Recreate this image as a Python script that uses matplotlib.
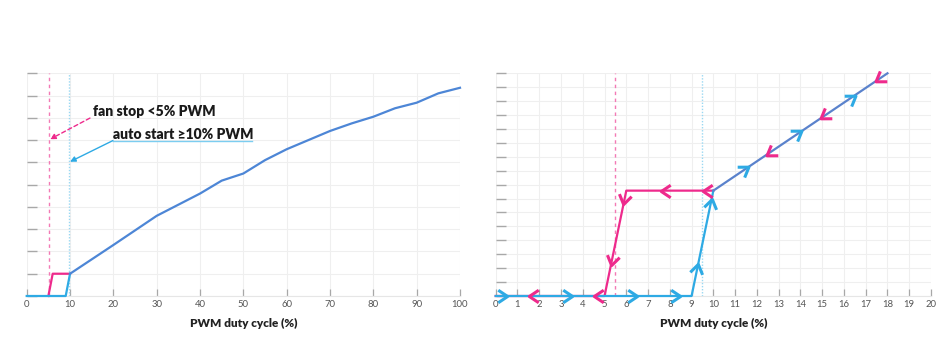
import numpy as np
import matplotlib
matplotlib.use("Agg")
import matplotlib.pyplot as plt
from matplotlib.path import Path
from matplotlib.markers import MarkerStyle
from matplotlib.transforms import Affine2D

plt.rcParams['font.family'] = ['Lato', 'DejaVu Sans']

# ---------------- data ----------------
# Left panel: full range fan curve (arbitrary speed units 0..10)
left_x_ticks = [0, 10, 20, 30, 40, 50, 60, 70, 80, 90, 100]
left_start_x = [0, 9, 10]
left_start_y = [0, 0, 1.0]
left_stop_x = [5, 6, 10]
left_stop_y = [0, 1.0, 1.0]
left_curve_x = [10, 20, 30, 40, 45, 50, 55, 60, 65, 70, 75, 80, 85, 90, 95, 100]
left_curve_y = [1.0, 2.29, 3.6, 4.6, 5.18, 5.5, 6.1, 6.59, 7.0, 7.41, 7.75, 8.05, 8.43, 8.68, 9.1, 9.35]
left_stop_threshold = 5.2
left_start_threshold = 9.8

# Right panel: hysteresis zoom (0..20 % PWM)
right_x_ticks = list(range(0, 21))
right_start_x = [0, 9, 10]
right_start_y = [0, 0, 7.57]
right_stop_x = [10, 6, 5, 0]
right_stop_y = [7.57, 7.57, 0, 0]
right_curve_x = [10, 18]
right_curve_y = [7.57, 16]
right_stop_threshold = 5.5
right_start_threshold = 9.5

# direction markers along paths
base_up_x = [0.35, 3.3, 6.3, 8.3]      # light blue, rightwards on y=0
base_down_x = [1.7, 4.7]               # pink, leftwards on y=0
rise_up_y = [2.0, 6.7]                 # light blue, up the 9->10 segment
fall_down_y = [6.9, 2.5]               # pink, down the 6->5 segment
flat_down_x = [7.8, 9.7]               # pink, leftwards on plateau
diag_up_x = [11.45, 13.9, 16.35]       # light blue, up the diagonal
diag_down_x = [12.6, 15.1, 17.6]       # pink, down the diagonal

annot_stop = "fan stop <5% PWM"
annot_start = "auto start \u226510% PWM"
xlabel = "PWM duty cycle (%)"

# ---------------- style ----------------
PINK = "#ee2a8c"
PINK_L = "#f37ab5"
LBLUE = "#2eaae4"
LBLUE_L = "#9ad8f2"
MBLUE = "#4d86d6"
DBLUE = "#5a82cc"
GRID = "#efefef"
TICK = "#a8a8a8"
TXT = "#555555"

fig = plt.figure(figsize=(9.5, 3.55), dpi=100)
axL = fig.add_axes([26.7 / 950, 59 / 355, 433.3 / 950, 222.7 / 355])
axR = fig.add_axes([495.7 / 950, 59 / 355, 435.3 / 950, 222.7 / 355])


def style(ax, xlim, ylim, xticks, yticks):
    ax.set_xlim(*xlim)
    ax.set_ylim(*ylim)
    ax.set_xticks(xticks)
    ax.set_yticks(yticks)
    ax.set_yticklabels([])
    for s in ['top', 'right', 'left']:
        ax.spines[s].set_visible(False)
    ax.spines['bottom'].set_color("#e6e6e6")
    ax.spines['bottom'].set_linewidth(0.8)
    ax.grid(True, color=GRID, lw=0.8)
    ax.set_axisbelow(True)
    ax.tick_params(axis='x', direction='in', length=5, width=0.9, color=TICK,
                   labelsize=6.8, labelcolor=TXT, pad=3)
    ax.tick_params(axis='y', direction='in', length=7, width=1.0, color=TICK)
    ax.set_xlabel(xlabel, fontsize=8.5, fontweight='heavy', color="#222222", labelpad=6)
    ax.patch.set_alpha(0)


style(axL, (0, 100), (0, 10), left_x_ticks, np.arange(0, 11, 1))
style(axR, (0, 20), (0, 16), right_x_ticks, np.arange(0, 17, 1))

# ---------------- left panel ----------------
axL.axvline(left_stop_threshold, color=PINK_L, lw=1.0, ls=(0, (2.5, 2.5)), zorder=2)
axL.axvline(left_start_threshold, color=LBLUE_L, lw=1.0, ls=(0, (1, 1.2)), zorder=2)
axL.plot(left_stop_x, left_stop_y, color=PINK, lw=1.6, zorder=3, clip_on=False)
axL.plot(left_start_x, left_start_y, color=LBLUE, lw=1.6, zorder=4, clip_on=False)
axL.plot(left_curve_x, left_curve_y, color=MBLUE, lw=1.6, zorder=4, clip_on=False)

axL.text(15.2, 8.28, annot_stop, fontsize=10, fontweight='heavy', color="#1a1a1a",
         va='center', ha='left', zorder=6)
axL.annotate("", xy=(5.4, 7.04), xytext=(14.6, 7.99),
             arrowprops=dict(arrowstyle="-|>", color=PINK, lw=1.0, ls=(0, (3, 2)),
                             mutation_scale=8, shrinkA=0, shrinkB=0), zorder=6)
axL.text(19.9, 7.25, annot_start, fontsize=10, fontweight='heavy', color="#1a1a1a",
         va='center', ha='left', zorder=6)
axL.plot([19.9, 52.1], [6.98, 6.98], color="#7ccdf0", lw=1.0, zorder=5)
axL.annotate("", xy=(10.0, 6.03), xytext=(19.9, 6.98),
             arrowprops=dict(arrowstyle="-|>", color=LBLUE, lw=1.0,
                             mutation_scale=8, shrinkA=0, shrinkB=0), zorder=6)

# ---------------- right panel ----------------
axR.axvline(right_stop_threshold, color=PINK_L, lw=1.0, ls=(0, (2.5, 2.5)), zorder=2)
axR.axvline(right_start_threshold, color=LBLUE_L, lw=1.0, ls=(0, (1, 1.2)), zorder=2)
axR.plot(right_stop_x, right_stop_y, color=PINK, lw=1.6, zorder=3, clip_on=False)
axR.plot(right_start_x, right_start_y, color=LBLUE, lw=1.6, zorder=4, clip_on=False)
axR.plot(right_curve_x, right_curve_y, color=DBLUE, lw=1.6, zorder=4, clip_on=False)

CHEV = Path([(-0.5, 0.6), (0.4, 0.0), (-0.5, -0.6)],
            [Path.MOVETO, Path.LINETO, Path.LINETO])


def chevrons(ax, xs, ys, p0, p1, color):
    """Draw chevrons at (xs, ys) pointing from p0 to p1 (data coords)."""
    d0 = ax.transData.transform(p0)
    d1 = ax.transData.transform(p1)
    ang = np.degrees(np.arctan2(d1[1] - d0[1], d1[0] - d0[0]))
    m = MarkerStyle(CHEV, fillstyle='none', transform=Affine2D().rotate_deg(ang))
    ax.plot(xs, ys, ls='none', marker=m, markersize=9, markeredgewidth=2.2,
            markeredgecolor=color, markerfacecolor='none', zorder=7, clip_on=False,
            solid_joinstyle='miter')


# baseline
chevrons(axR, base_up_x, [0] * len(base_up_x), (0, 0), (1, 0), LBLUE)
chevrons(axR, base_down_x, [0] * len(base_down_x), (1, 0), (0, 0), PINK)
# rising start segment
p0 = (right_start_x[1], right_start_y[1]); p1 = (right_start_x[2], right_start_y[2])
rx = np.interp(rise_up_y, [p0[1], p1[1]], [p0[0], p1[0]])
chevrons(axR, rx, rise_up_y, p0, p1, LBLUE)
# falling stop segment
q0 = (right_stop_x[1], right_stop_y[1]); q1 = (right_stop_x[2], right_stop_y[2])
fx = np.interp(fall_down_y, [q1[1], q0[1]], [q1[0], q0[0]])
chevrons(axR, fx, fall_down_y, q0, q1, PINK)
# plateau
chevrons(axR, flat_down_x, [right_stop_y[0]] * len(flat_down_x), (1, 0), (0, 0), PINK)
# diagonal
c0 = (right_curve_x[0], right_curve_y[0]); c1 = (right_curve_x[1], right_curve_y[1])
chevrons(axR, diag_up_x, np.interp(diag_up_x, right_curve_x, right_curve_y), c0, c1, LBLUE)
chevrons(axR, diag_down_x, np.interp(diag_down_x, right_curve_x, right_curve_y), c1, c0, PINK)

fig.savefig("out.png", dpi=100)
